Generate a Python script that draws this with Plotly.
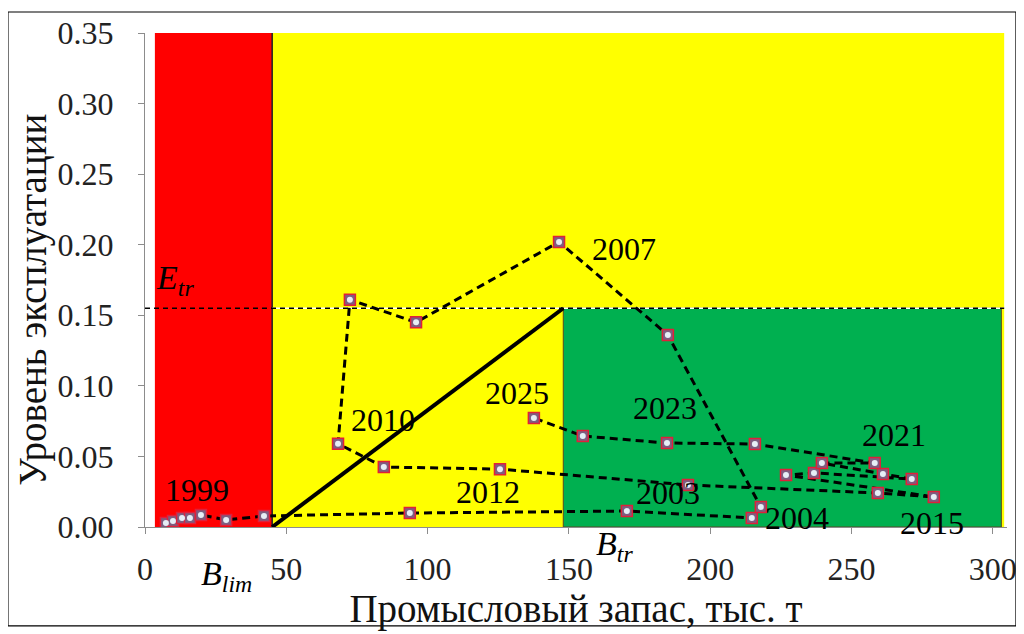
import plotly.graph_objects as go

# ---- data ----
years = list(range(1995, 2026))
biomass = [7.4, 9.9, 13.1, 15.9, 19.8, 28.7, 42.1, 93.7, 170.5, 214.7,
           217.9, 185.0, 146.5, 95.9, 72.5, 68.3, 84.5, 125.6, 192.1, 259.3,
           279.1, 226.8, 236.7, 271.3, 261.1, 239.5, 258.2, 215.8, 184.7, 154.9,
           137.6]
exploitation = [0.0028, 0.0043, 0.0064, 0.0064, 0.0085, 0.0050, 0.0078, 0.0099, 0.0113, 0.0064,
                0.0142, 0.136, 0.202, 0.145, 0.161, 0.059, 0.0425, 0.041, 0.0298, 0.0241,
                0.0213, 0.0368, 0.0383, 0.0340, 0.0376, 0.0453, 0.0453, 0.0588, 0.0595, 0.0645,
                0.0772]

# reference points
B_LIM = 45
B_TR = 148
E_TR = 0.155
X_MIN_ZONE = 3.5
X_MAX_ZONE = 304
Y_MAX = 0.35

labeled_years = [1999, 2003, 2004, 2007, 2010, 2012, 2015, 2021, 2023, 2025]
label_shift = {1999: (-4, 25), 2003: (41, 18), 2004: (45, 0), 2007: (65, -7),
               2010: (45, 24), 2012: (-12, -23), 2015: (-2, -26), 2021: (19, 28),
               2023: (-2, 35), 2025: (-17, 25)}

SERIF = "Liberation Serif"

fig = go.Figure()

# zones
shapes = [
    dict(type="rect", xref="x", yref="y", x0=X_MIN_ZONE, x1=B_LIM, y0=0, y1=Y_MAX,
         fillcolor="#ff0000", line_width=0, layer="below"),
    dict(type="rect", xref="x", yref="y", x0=B_LIM, x1=X_MAX_ZONE, y0=0, y1=Y_MAX,
         fillcolor="#ffff00", line_width=0, layer="below"),
    dict(type="rect", xref="x", yref="y", x0=B_TR, x1=X_MAX_ZONE - 1, y0=0, y1=E_TR,
         fillcolor="#00b050", line=dict(color="#5a4a20", width=1), layer="below"),
    dict(type="line", xref="x", yref="y", x0=B_LIM, x1=B_LIM, y0=0, y1=Y_MAX,
         line=dict(color="#222222", width=1.5), layer="below"),
    # E_tr dashed line
    dict(type="line", xref="x", yref="y", x0=B_LIM, x1=X_MAX_ZONE, y0=E_TR, y1=E_TR,
         line=dict(color="white", width=1.5), layer="below"),
    dict(type="line", xref="x", yref="y", x0=0, x1=X_MAX_ZONE, y0=E_TR, y1=E_TR,
         line=dict(color="black", width=1.3, dash="5px,4px"), layer="below"),
    # outer frame
    dict(type="rect", xref="paper", yref="paper", x0=-0.159, x1=1.0104, y0=-0.200, y1=1.0425,
         line=dict(color="black", width=1.2), fillcolor="rgba(0,0,0,0)"),
]

# harvest control rule line
fig.add_trace(go.Scatter(x=[B_LIM, B_TR], y=[0, E_TR], mode="lines",
                         line=dict(color="black", width=4), hoverinfo="skip", showlegend=False))

# trajectory
fig.add_trace(go.Scatter(x=biomass, y=exploitation, mode="lines",
                         line=dict(color="black", width=3, dash="8px,5px"),
                         showlegend=False))
fig.add_trace(go.Scatter(x=biomass, y=exploitation, mode="markers",
                         marker=dict(symbol="square", size=11, color="#7d5d80",
                                     line=dict(color="#e0203a", width=1.5)),
                         showlegend=False, text=years))
fig.add_trace(go.Scatter(x=biomass, y=exploitation, mode="markers",
                         marker=dict(symbol="circle", size=6, color="#e6eef6",
                                     line=dict(width=0)),
                         showlegend=False, hoverinfo="skip"))

annotations = []
for yr in labeled_years:
    i = years.index(yr)
    dx, dy = label_shift[yr]
    annotations.append(dict(x=biomass[i], y=exploitation[i], text=str(yr), showarrow=False,
                            xshift=dx, yshift=dy, font=dict(family=SERIF, size=32, color="black")))

annotations += [
    dict(x=10.6, y=0.175, text="<i>E<sub>tr</sub></i>", showarrow=False,
         font=dict(family=SERIF, size=34, color="black")),
    dict(x=29, xref="x", y=-0.145, yref="paper", text="<i>B<sub>lim</sub></i>", showarrow=False,
         font=dict(family=SERIF, size=34, color="black")),
    dict(x=166, xref="x", y=-0.085, yref="paper", text="<i>B<sub>tr</sub></i>", showarrow=False,
         font=dict(family=SERIF, size=34, color="black")),
    # y-axis title
    dict(x=-0.130, xref="paper", y=0.46, yref="paper", text="Уровень эксплуатации",
         textangle=-90, showarrow=False, xanchor="center", yanchor="middle",
         font=dict(family=SERIF, size=39, color="#111111")),
]

# page body has an 8px default margin: size the figure to fill the rest of the window
fig.update_layout(
    width=1016, height=626,
    margin=dict(l=137, r=17, t=25, b=107, autoexpand=False),
    paper_bgcolor="white", plot_bgcolor="white",
    shapes=shapes, annotations=annotations,
    showlegend=False,
    font=dict(family=SERIF, color="#222222"),
)
fig.update_xaxes(range=[0, 305], tickvals=[0, 50, 100, 150, 200, 250, 300],
                 automargin=False,
                 showgrid=False, zeroline=False, showline=True, linecolor="#8c8c8c",
                 ticks="outside", ticklen=6, tickcolor="#8c8c8c", ticklabelstandoff=8,
                 tickfont=dict(family=SERIF, size=32, color="#222222"),
                 title=dict(text="Промысловый запас, тыс. т",
                            font=dict(family=SERIF, size=39, color="#111111"), standoff=0))
fig.update_yaxes(range=[0, Y_MAX], tickvals=[0, 0.05, 0.10, 0.15, 0.20, 0.25, 0.30, 0.35],
                 tickformat=".2f", automargin=False,
                 showgrid=False, zeroline=False, showline=True, linecolor="#8c8c8c",
                 ticks="outside", ticklen=6, tickcolor="#8c8c8c", ticklabelstandoff=18,
                 tickfont=dict(family=SERIF, size=32, color="#222222"))

fig.write_html("out.html")
